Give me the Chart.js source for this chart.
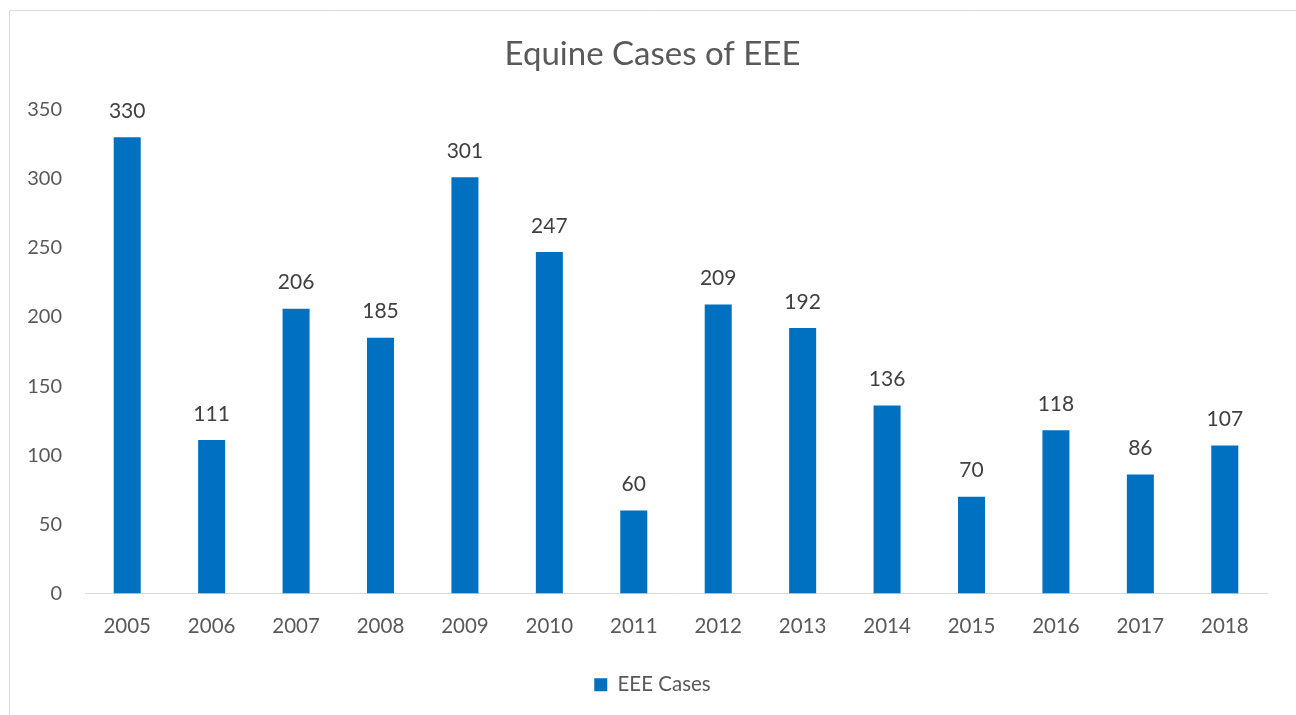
<!DOCTYPE html>
<html>
<head>
<meta charset="utf-8">
<script src="https://cdn.jsdelivr.net/npm/chart.js@4"></script>
<style>
  html, body { margin: 0; padding: 0; background: #fff; }
  #wrap { position: relative; width: 1296px; height: 715px; }
</style>
</head>
<body>
<div id="wrap"><canvas id="myChart" width="1296" height="715"></canvas></div>
<script>
const years = ['2005', '2006', '2007', '2008', '2009', '2010', '2011', '2012', '2013', '2014', '2015', '2016', '2017', '2018'];
const eeeCases = [330, 111, 206, 185, 301, 247, 60, 209, 192, 136, 70, 118, 86, 107];
const yTicks = [0, 50, 100, 150, 200, 250, 300, 350];

const FONT = 'Lato, "Open Sans", sans-serif';
const GREY = '#595959';

// light frame round the chart, like the office chart border
const framePlugin = {
    id: 'frame',
    afterLayout(chart) {
        // centre title and legend on the framed area, not on the plot
        chart.titleBlock.left = 38;
        chart.legend.left = 38;
    },
    beforeDraw(chart) {
        const ctx = chart.ctx;
        ctx.save();
        ctx.fillStyle = '#fff';
        ctx.fillRect(0, 0, chart.width, chart.height);
        ctx.strokeStyle = '#d9d9d9';
        ctx.lineWidth = 1;
        ctx.beginPath();
        ctx.moveTo(9.5, chart.height);
        ctx.lineTo(9.5, 10.5);
        ctx.lineTo(chart.width, 10.5);
        ctx.stroke();
        ctx.restore();
    }
};

// value labels over each bar
const valueLabels = {
    id: 'valueLabels',
    afterDatasetsDraw(chart) {
        const ctx = chart.ctx;
        ctx.save();
        ctx.font = '21px ' + FONT;
        ctx.fillStyle = '#404040';
        ctx.textAlign = 'center';
        ctx.textBaseline = 'middle';
        chart.getDatasetMeta(0).data.forEach((bar, i) => {
            ctx.fillText(eeeCases[i], bar.x, bar.y - 26);
        });
        ctx.restore();
    }
};

const ctx = document.getElementById('myChart').getContext('2d');
const myChart = new Chart(ctx, {
    type: 'bar',
    data: {
        labels: years,
        datasets: [{
            label: 'EEE Cases',
            data: eeeCases,
            backgroundColor: '#0070C0',
            borderWidth: 0,
            barPercentage: 1,
            categoryPercentage: 0.32
        }]
    },
    options: {
        responsive: false,
        animation: false,
        layout: {
            padding: { left: 0, right: 29, top: 18, bottom: 10 }
        },
        plugins: {
            title: {
                display: true,
                text: 'Equine Cases of EEE',
                color: GREY,
                font: { family: FONT, size: 33, weight: 'normal' },
                padding: { top: 17, bottom: 35 }
            },
            legend: {
                position: 'bottom',
                labels: {
                    color: GREY,
                    font: { family: FONT, size: 20.5 },
                    boxWidth: 13,
                    boxHeight: 13,
                    padding: 10
                }
            },
            tooltip: { enabled: false }
        },
        scales: {
            y: {
                min: 0,
                max: 350,
                afterFit(scale) { scale.width = 85; },
                afterBuildTicks(scale) { scale.ticks = yTicks.map(v => ({ value: v })); },
                grid: { display: false, drawTicks: false },
                border: { display: false },
                ticks: {
                    color: GREY,
                    padding: 23,
                    font: { family: FONT, size: 20 }
                }
            },
            x: {
                afterFit(scale) { scale.height = 71; },
                grid: { display: false, drawTicks: false },
                border: { display: true, color: '#d9d9d9', width: 1 },
                ticks: {
                    color: GREY,
                    padding: 21,
                    maxRotation: 0,
                    font: { family: FONT, size: 20.5 }
                }
            }
        }
    },
    plugins: [framePlugin, valueLabels]
});
</script>
</body>
</html>
